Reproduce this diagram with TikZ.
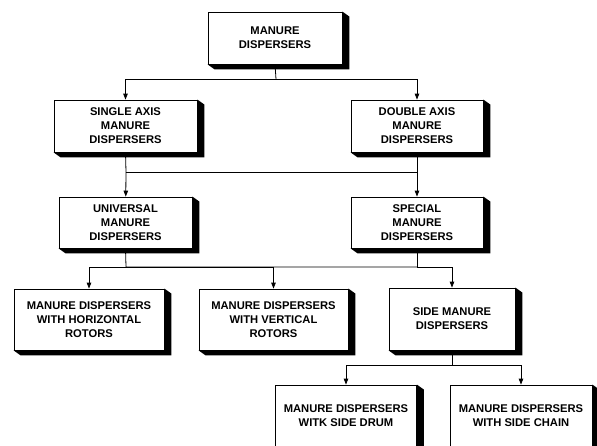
\documentclass[tikz,border=0pt]{standalone}
\usepackage{fontspec}
\setmainfont{Liberation Sans}
\usetikzlibrary{arrows.meta}

\tikzset{
  box/.style={draw, fill=white, line width=0.8pt, align=center, inner sep=0pt,
              font=\bfseries\fontsize{11.2}{14}\selectfont},
  arr/.style={line width=0.8pt, -{Triangle[length=6pt,width=4.5pt]}},
  lin/.style={line width=0.8pt}
}

\begin{document}
\begin{tikzpicture}[x=1pt,y=-1pt]

            \useasboundingbox (0,0) rectangle (597,445);

            \path   (275,38)    node (md) [box,minimum width=134pt,minimum height=52pt] {MANURE\\DISPERSERS}
                    (125.5,126) node (sa) [box,minimum width=143pt,minimum height=52pt] {SINGLE AXIS\\MANURE\\DISPERSERS}
                    (417,126)   node (da) [box,minimum width=132pt,minimum height=52pt] {DOUBLE AXIS\\MANURE\\DISPERSERS}
                    (125.5,222.5) node (um) [box,minimum width=133pt,minimum height=51pt] {UNIVERSAL\\MANURE\\DISPERSERS}
                    (417,222.5) node (sm) [box,minimum width=132pt,minimum height=51pt] {SPECIAL\\MANURE\\DISPERSERS}
                    (89,319.5)  node (hr) [box,minimum width=150pt,minimum height=61pt] {MANURE DISPERSERS\\WITH HORIZONTAL\\ROTORS}
                    (273.5,319.5) node (vr) [box,minimum width=149pt,minimum height=61pt] {MANURE DISPERSERS\\WITH VERTICAL\\ROTORS}
                    (452,319)   node (sd) [box,minimum width=126pt,minimum height=62pt] {SIDE MANURE\\DISPERSERS}
                    (346,415.5) node (dr) [box,minimum width=141pt,minimum height=61pt] {MANURE DISPERSERS\\WITK SIDE DRUM}
                    (521,415.5) node (ch) [box,minimum width=142pt,minimum height=61pt] {MANURE DISPERSERS\\WITH SIDE CHAIN};

            % shadows
            \foreach \n in {md,sa,da,um,sm,hr,vr,sd,dr,ch}
                \fill (\n.north east) -- ++(7,5) -- ([shift={(7,5)}]\n.south east)
                      -- ([shift={(7,5)}]\n.south west) -- (\n.south west) -- (\n.south east) -- cycle;

            \coordinate (j1) at (276,79);
            \coordinate (j2) at (126,172);
            \coordinate (j3) at (126,267);
            \coordinate (j4) at (417,267);
            \coordinate (j5) at (452,365.5);

            \draw[lin] (md.south) -- (j1);
            \draw[arr] (j1) -| (sa);
            \draw[arr] (j1) -| (da);

            \draw[lin] (sa.south) -- (j2);
            \draw[lin] (j2) -- (da.south |- j2);
            \draw[arr] (j2) -- (um);
            \draw[arr] (da.south) -- (sm);

            \draw[lin] (um.south) -- (j3) -- (j4);
            \draw[lin] (sm.south) -- (j4);
            \draw[arr] (j3) -| (hr);
            \draw[arr] (j3) -| (vr);
            \draw[arr] (j4) -| (sd);

            \draw[lin] (sd.south) -- (j5);
            \draw[arr] (j5) -| (dr);
            \draw[arr] (j5) -| (ch);

\end{tikzpicture}
\end{document}
